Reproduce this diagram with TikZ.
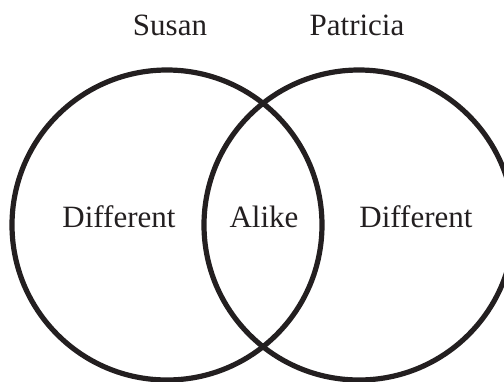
\documentclass[tikz,border=0pt]{standalone}
\usepackage{fontspec}
\setmainfont{Liberation Serif}
\definecolor{ink}{HTML}{231F20}
\begin{document}
\begin{tikzpicture}[x=1pt,y=-1pt,
  ring/.style={draw=ink,line width=5.2pt,circle,minimum size=310pt,inner sep=0pt},
  lbl/.style={text=ink,font=\fontsize{31}{37}\selectfont,anchor=base,inner sep=0pt}]
\useasboundingbox (0,0) rectangle (504,381);
\begin{scope}
\clip (0,0) rectangle (504,381);
\node[ring] (susanc) at (167,225) {};
\node[ring] (patc) at (359,225) {};
\end{scope}
\node[lbl] (susan) at (170,35) {Susan};
\node[lbl] (patricia) at (357,35) {Patricia};
\node[lbl] (diffl) at (119,227) {Different};
\node[lbl] (alike) at (264,227) {Alike};
\node[lbl] (diffr) at (416,227) {Different};
\end{tikzpicture}
\end{document}
